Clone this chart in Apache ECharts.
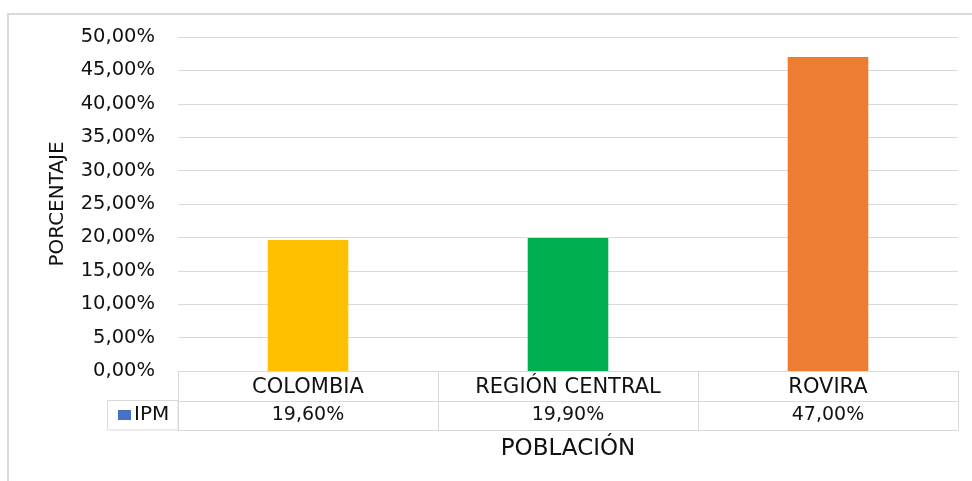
<!DOCTYPE html>
<html>
<head>
<meta charset="utf-8">
<script src="https://cdn.jsdelivr.net/npm/echarts@6/dist/echarts.min.js"></script>
<style>
html, body { margin: 0; padding: 0; background: #fff; }
#chart { width: 972px; height: 481px; }
</style>
</head>
<body>
<div id="chart"></div>
<script>
var categories = ['COLOMBIA', 'REGIÓN CENTRAL', 'ROVIRA'];
var ipmValues = [0.196, 0.199, 0.47];
var barColors = ['#FFC000', '#00B050', '#ED7D31'];

function pct(v) {
    return (v * 100).toFixed(2).replace('.', ',') + '%';
}

var myChart = echarts.init(document.getElementById('chart'));
var font = 'DejaVu Sans';
var lineColor = '#D9D9D9';
var txt = '#111';

var option = {
    textStyle: { fontFamily: font, color: txt },
    grid: { left: 178, right: 14, top: 37, bottom: 110 },
    legend: {
        data: ['IPM'],
        left: 113,
        top: 400,
        icon: 'rect',
        itemWidth: 13,
        itemHeight: 10,
        itemGap: 0,
        textStyle: { fontFamily: font, fontSize: 20, color: txt, padding: [4, 0, 0, -2] },
        selectedMode: false
    },
    xAxis: [
        {
            type: 'category',
            data: categories,
            axisLine: { show: true, lineStyle: { color: lineColor, width: 1 } },
            axisTick: { show: true, length: 59, lineStyle: { color: lineColor, width: 1 } },
            axisLabel: { fontFamily: font, fontSize: 21, color: txt, margin: 6 }
        },
        {
            type: 'category',
            data: categories,
            position: 'bottom',
            offset: 30,
            axisLine: { show: true, lineStyle: { color: lineColor, width: 1 } },
            axisTick: { show: false },
            axisLabel: {
                fontFamily: font, fontSize: 19, color: txt, margin: 5,
                formatter: function (v, i) { return pct(ipmValues[i]); }
            }
        },
        {
            type: 'category',
            data: categories,
            position: 'bottom',
            offset: 59,
            axisLine: { show: true, lineStyle: { color: lineColor, width: 1 } },
            axisTick: { show: false },
            axisLabel: { show: false },
            name: 'POBLACIÓN',
            nameLocation: 'middle',
            nameGap: 8,
            nameTextStyle: { fontFamily: font, fontSize: 23, color: txt, verticalAlign: 'top' }
        }
    ],
    yAxis: {
        type: 'value',
        min: 0,
        max: 0.5,
        interval: 0.05,
        name: 'PORCENTAJE',
        nameLocation: 'middle',
        nameGap: 110,
        nameRotate: 90,
        nameTextStyle: { fontFamily: font, fontSize: 20, color: txt },
        axisLine: { show: false },
        axisTick: { show: false },
        axisLabel: {
            fontFamily: font, fontSize: 19.5, color: txt, margin: 23,
            formatter: function (v) { return pct(v); }
        },
        splitLine: { lineStyle: { color: lineColor, width: 1 } }
    },
    series: [
        {
            name: 'IPM',
            type: 'bar',
            barWidth: '31%',
            itemStyle: { color: '#4472C4' },
            data: ipmValues.map(function (v, i) {
                return { value: v, itemStyle: { color: barColors[i] } };
            })
        }
    ],
    graphic: [
        {
            type: 'rect',
            shape: { x: 8, y: 14, width: 1200, height: 1200 },
            style: { fill: 'none', stroke: lineColor, lineWidth: 2 },
            silent: true
        },
        {
            type: 'rect',
            shape: { x: 107.5, y: 400.5, width: 70.5, height: 29.5 },
            style: { fill: 'none', stroke: lineColor, lineWidth: 1 },
            silent: true
        }
    ]
};

myChart.setOption(option);
</script>
</body>
</html>
